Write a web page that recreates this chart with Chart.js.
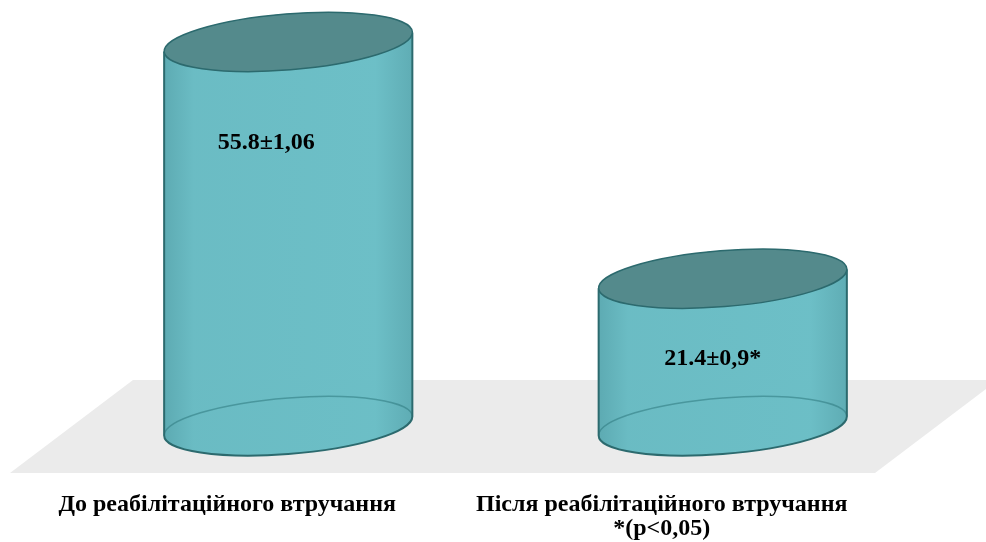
<!DOCTYPE html>
<html>
<head>
<meta charset="utf-8">
<script src="https://cdn.jsdelivr.net/npm/chart.js@4/dist/chart.umd.min.js"></script>
<style>
  html, body { margin: 0; padding: 0; background: #fff; }
  #wrap { width: 986px; height: 542px; }
</style>
</head>
<body>
<div id="wrap"><canvas id="cyl" width="986" height="542"></canvas></div>
<script>
// дані
const categories = [
  'До реабілітаційного втручання',
  ['Після реабілітаційного втручання', '*(p<0,05)']
];
const values = [55.8, 21.4];
const valueLabels = ['55.8±1,06', '21.4±0,9*'];
const yMin = 0;
const yMax = 60;

// сіра "підлога" під циліндрами
const floorPlugin = {
  id: 'floor',
  beforeDatasetsDraw(chart) {
    const ctx = chart.ctx;
    const base = chart.scales.y.getPixelForValue(0);
    const a = chart.chartArea;
    ctx.save();
    ctx.fillStyle = '#ebebeb';
    ctx.beginPath();
    ctx.moveTo(a.left + 62, base - 46);
    ctx.lineTo(a.right + 58, base - 46);
    ctx.lineTo(a.right - 65, base + 47);
    ctx.lineTo(a.left - 61, base + 47);
    ctx.closePath();
    ctx.fill();
    ctx.restore();
  }
};

// малюємо циліндри на місці стовпчиків
const cylinderPlugin = {
  id: 'cylinders',
  afterDatasetsDraw(chart, args, opts) {
    const ctx = chart.ctx;
    const bars = chart.getDatasetMeta(0).data;
    const ry = opts.ry;
    const rot = opts.rotation;
    bars.forEach((bar, i) => {
      const cx = bar.x;
      const rx = bar.width / 2;
      const topY = bar.y;
      const botY = bar.base;
      const t0 = Math.atan(-ry * Math.tan(rot) / rx);
      const pt = (cy, t) => ({
        x: cx + rx * Math.cos(t) * Math.cos(rot) - ry * Math.sin(t) * Math.sin(rot),
        y: cy + rx * Math.cos(t) * Math.sin(rot) + ry * Math.sin(t) * Math.cos(rot)
      });
      const LT = pt(topY, t0 + Math.PI), RT = pt(topY, t0);
      const LB = pt(botY, t0 + Math.PI);

      ctx.save();
      // тіло
      const grad = ctx.createLinearGradient(cx - rx, 0, cx + rx, 0);
      grad.addColorStop(0, 'rgba(88,168,176,0.97)');
      grad.addColorStop(0.12, 'rgba(102,186,194,0.97)');
      grad.addColorStop(0.85, 'rgba(104,189,197,0.97)');
      grad.addColorStop(1, 'rgba(90,170,178,0.97)');
      ctx.fillStyle = grad;
      ctx.beginPath();
      ctx.moveTo(LT.x, LT.y);
      ctx.lineTo(LB.x, LB.y);
      ctx.ellipse(cx, botY, rx, ry, rot, t0 + Math.PI, t0, true);
      ctx.lineTo(RT.x, RT.y);
      ctx.ellipse(cx, topY, rx, ry, rot, t0, t0 - Math.PI, true);
      ctx.closePath();
      ctx.fill();

      // задня частина нижнього еліпса
      ctx.strokeStyle = 'rgba(45,120,126,0.55)';
      ctx.lineWidth = 1.5;
      ctx.beginPath();
      ctx.ellipse(cx, botY, rx, ry, rot, t0 + Math.PI, t0 + 2 * Math.PI, false);
      ctx.stroke();

      // контур
      ctx.strokeStyle = '#2c6a6e';
      ctx.lineWidth = 2;
      ctx.beginPath();
      ctx.moveTo(LT.x, LT.y);
      ctx.lineTo(LB.x, LB.y);
      ctx.ellipse(cx, botY, rx, ry, rot, t0 + Math.PI, t0, true);
      ctx.lineTo(RT.x, RT.y);
      ctx.stroke();

      // верхня кришка
      ctx.fillStyle = '#548a8c';
      ctx.strokeStyle = '#2c6a6e';
      ctx.lineWidth = 1.5;
      ctx.beginPath();
      ctx.ellipse(cx, topY, rx, ry, rot, 0, Math.PI * 2);
      ctx.fill();
      ctx.stroke();

      // підпис значення
      const off = opts.labelOffsets[i];
      ctx.fillStyle = '#000';
      ctx.font = 'bold 24px "Liberation Serif", "Times New Roman", serif';
      ctx.textAlign = 'center';
      ctx.textBaseline = 'middle';
      ctx.fillText(valueLabels[i], cx + off.dx, topY + off.dy);
      ctx.restore();
    });
  }
};

new Chart(document.getElementById('cyl'), {
  type: 'bar',
  data: {
    labels: categories,
    datasets: [{
      data: values,
      backgroundColor: 'rgba(0,0,0,0)',
      borderWidth: 0,
      barPercentage: 0.573,
      categoryPercentage: 1
    }]
  },
  options: {
    responsive: false,
    animation: false,
    layout: { padding: { left: 71, right: 46, top: 13, bottom: 0 } },
    plugins: {
      legend: { display: false },
      tooltip: { enabled: false },
      cylinders: {
        ry: 28,
        rotation: -4.6 * Math.PI / 180,
        labelOffsets: [{ dx: -22, dy: 101 }, { dx: -10, dy: 80 }]
      }
    },
    scales: {
      x: {
        grid: { display: false },
        border: { display: false },
        afterFit: function(scale) { scale.height = 116; },
        ticks: {
          color: '#000',
          padding: 59,
          labelOffset: -61,
          maxRotation: 0,
          autoSkip: false,
          font: { family: '"Liberation Serif", "Times New Roman", serif', size: 24, weight: 'bold', lineHeight: 1.0 }
        }
      },
      y: {
        display: false,
        min: yMin,
        max: yMax
      }
    }
  },
  plugins: [floorPlugin, cylinderPlugin]
});
</script>
</body>
</html>
